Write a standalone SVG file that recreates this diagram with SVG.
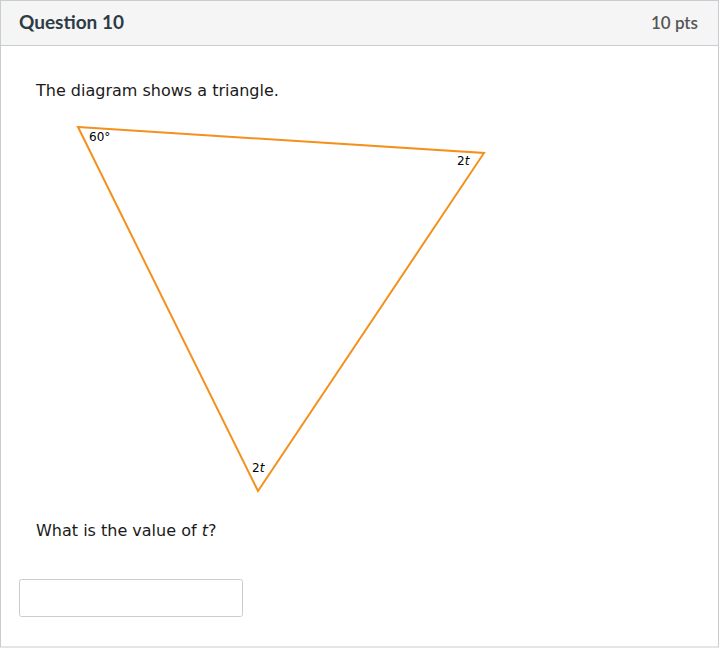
<svg xmlns="http://www.w3.org/2000/svg" width="719" height="650" viewBox="0 0 719 650">
<style>
.lbl{font-family:"DejaVu Sans",Verdana,sans-serif;font-size:12px;fill:#000}
.body{font-family:"DejaVu Sans",Verdana,sans-serif;font-size:16px;fill:#1a1a1a}
</style>
<rect x="0" y="0" width="719" height="650" fill="#fff"/>
<g id="frame">
<rect x="0.5" y="0.5" width="718" height="646.5" fill="none" stroke="#c7cdd1"/>
<rect x="1" y="1" width="717" height="44" fill="#f5f5f5"/>
<line x1="0" y1="45.5" x2="719" y2="45.5" stroke="#c7cdd1"/>
<text x="19" y="29" font-family="Lato,sans-serif" font-size="19" font-weight="bold" fill="#2d3b45">Question 10</text>
<text x="698" y="29" text-anchor="end" font-family="Lato,sans-serif" font-size="17" font-weight="600" fill="#555">10 pts</text>
</g>
<text class="body" x="36" y="96">The diagram shows a triangle.</text>
<g id="triangle">
<polygon points="78,127 484,153 258,491" fill="none" stroke="#f5901e" stroke-width="2" stroke-linejoin="miter"/>
<text class="lbl" x="89" y="141">60°</text>
<text class="lbl" x="457" y="165">2<tspan font-style="italic">t</tspan></text>
<text class="lbl" x="252" y="472">2<tspan font-style="italic">t</tspan></text>
</g>
<text class="body" x="36" y="536">What is the value of <tspan font-style="italic">t</tspan>?</text>
<rect id="answer" x="19.5" y="579.5" width="223" height="37" rx="2" fill="#fff" stroke="#c7cdd1"/>
</svg>
